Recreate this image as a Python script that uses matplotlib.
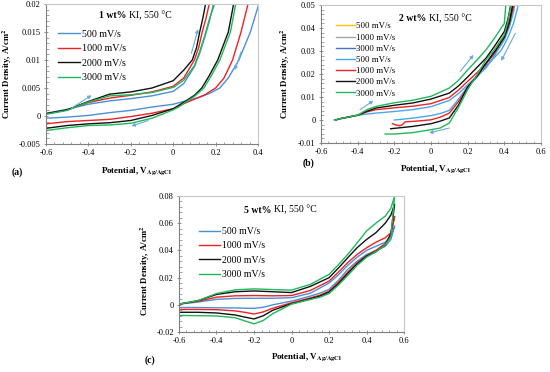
import matplotlib
matplotlib.use("Agg")
from matplotlib import pyplot as plt
from matplotlib.ticker import MultipleLocator, FuncFormatter

plt.rcParams['font.family'] = ['Liberation Serif', 'DejaVu Serif']
plt.rcParams['mathtext.fontset'] = 'stix'

BLUE = '#4a90d9'
LBLUE = '#45a8ee'
RED = '#ee2222'
BLACK = '#111111'
GREEN = '#1fb85a'
ARROW = '#6fa8dc'

rates = ['500 mV/s', '1000 mV/s', '2000 mV/s', '3000 mV/s']

# ---- panel (a): 1 wt% KI ----
a_x_fwd = {
    '500':  [-0.6, -0.5, -0.4, -0.3, -0.2, -0.1, 0.0, 0.05, 0.1, 0.125, 0.15, 0.17, 0.19, 0.2],
    '1000': [-0.6, -0.5, -0.4, -0.3, -0.2, -0.1, 0.0, 0.05, 0.1, 0.12, 0.137, 0.155, 0.17, 0.18],
    '2000': [-0.6, -0.5, -0.4, -0.3, -0.2, -0.1, 0.0, 0.05, 0.09, 0.11, 0.125, 0.14, 0.155, 0.165],
    '3000': [-0.6, -0.5, -0.4, -0.3, -0.2, -0.1, 0.0, 0.05, 0.1, 0.125, 0.15, 0.172, 0.2, 0.21],
}
a_y_fwd = {
    '500':  [0.0005, 0.0012, 0.0021, 0.0027, 0.0031, 0.0036, 0.0044, 0.0058, 0.0088, 0.0112, 0.0142, 0.0168, 0.0200, 0.023],
    '1000': [0.0004, 0.0011, 0.0024, 0.0032, 0.0037, 0.0043, 0.0053, 0.0068, 0.0100, 0.0122, 0.0150, 0.0175, 0.0200, 0.023],
    '2000': [0.0004, 0.0011, 0.0026, 0.0039, 0.0043, 0.0050, 0.0063, 0.0082, 0.0100, 0.0122, 0.0150, 0.0175, 0.0205, 0.023],
    '3000': [0.0003, 0.0010, 0.0025, 0.0036, 0.0038, 0.0042, 0.0051, 0.0064, 0.0090, 0.0115, 0.0145, 0.0175, 0.0205, 0.023],
}
a_x_rev = {
    '500':  [0.42, 0.4, 0.364, 0.31, 0.26, 0.22, 0.17, 0.12, 0.06, 0.0, -0.1, -0.2, -0.3, -0.4, -0.5, -0.6],
    '1000': [0.37, 0.353, 0.32, 0.28, 0.24, 0.2, 0.15, 0.1, 0.05, 0.0, -0.1, -0.2, -0.3, -0.4, -0.5, -0.6],
    '2000': [0.3, 0.285, 0.26, 0.21, 0.17, 0.135, 0.1, 0.06, 0.03, 0.0, -0.1, -0.2, -0.3, -0.4, -0.5, -0.6],
    '3000': [0.31, 0.295, 0.27, 0.22, 0.18, 0.145, 0.1, 0.06, 0.03, 0.0, -0.1, -0.2, -0.3, -0.4, -0.5, -0.6],
}
a_y_rev = {
    '500':  [0.022, 0.0195, 0.015, 0.010, 0.0068, 0.005, 0.0040, 0.0033, 0.0027, 0.0021, 0.0016, 0.0010, 0.0006, 0.0001, -0.0002, -0.0004],
    '1000': [0.022, 0.020, 0.015, 0.010, 0.0068, 0.005, 0.0038, 0.0030, 0.0022, 0.0013, 0.0005, -0.0001, -0.0006, -0.0008, -0.0010, -0.0014],
    '2000': [0.022, 0.020, 0.015, 0.010, 0.0072, 0.005, 0.0037, 0.0027, 0.0020, 0.0013, 0.0001, -0.0008, -0.0012, -0.0014, -0.0017, -0.0022],
    '3000': [0.022, 0.020, 0.015, 0.010, 0.0072, 0.005, 0.0035, 0.0025, 0.0017, 0.0011, -0.0004, -0.0013, -0.0016, -0.0017, -0.0021, -0.0026],
}

# ---- panel (b): 2 wt% KI ----
b_x_fwd = {
    '500':  [-0.53, -0.5, -0.45, -0.4, -0.35, -0.3, -0.2, -0.1, 0.0, 0.1, 0.15, 0.2, 0.25, 0.3, 0.35, 0.4, 0.43, 0.45, 0.46],
    '1000': [-0.52, -0.5, -0.45, -0.4, -0.35, -0.3, -0.2, -0.1, 0.0, 0.1, 0.15, 0.2, 0.25, 0.3, 0.35, 0.4, 0.43, 0.45],
    '2000': [-0.52, -0.5, -0.45, -0.4, -0.35, -0.3, -0.2, -0.1, 0.0, 0.1, 0.15, 0.2, 0.25, 0.3, 0.35, 0.4, 0.42, 0.44],
    '3000': [-0.52, -0.5, -0.45, -0.4, -0.35, -0.3, -0.2, -0.1, 0.0, 0.1, 0.15, 0.2, 0.25, 0.3, 0.35, 0.4, 0.41],
}
b_y_fwd = {
    '500':  [0.0, 0.0005, 0.0012, 0.0020, 0.0026, 0.0030, 0.0037, 0.0045, 0.0058, 0.0085, 0.0115, 0.0153, 0.0190, 0.0226, 0.0285, 0.0348, 0.041, 0.047, 0.052],
    '1000': [0.0, 0.0005, 0.0013, 0.0021, 0.0035, 0.0045, 0.0053, 0.0060, 0.0071, 0.0098, 0.0130, 0.0168, 0.0205, 0.0244, 0.0300, 0.0363, 0.044, 0.052],
    '2000': [0.0, 0.0005, 0.0013, 0.0021, 0.0038, 0.0052, 0.0064, 0.0074, 0.0091, 0.0117, 0.0148, 0.0187, 0.0228, 0.0269, 0.0325, 0.0385, 0.044, 0.052],
    '3000': [0.0, 0.0005, 0.0013, 0.0021, 0.0045, 0.0059, 0.0075, 0.0086, 0.0103, 0.0139, 0.0172, 0.0218, 0.0260, 0.0305, 0.0360, 0.0420, 0.052],
}
b_x_rev = {
    '500':  [0.48, 0.47, 0.45, 0.42, 0.4, 0.38, 0.35, 0.3, 0.25, 0.2, 0.15, 0.1, 0.05, 0.0, -0.1, -0.2],
    '1000': [0.46, 0.44, 0.42, 0.4, 0.35, 0.3, 0.25, 0.2, 0.15, 0.1, 0.05, 0.0, -0.05, -0.1, -0.14, -0.16, -0.17, -0.19, -0.21],
    '2000': [0.45, 0.43, 0.4, 0.35, 0.3, 0.25, 0.2, 0.15, 0.1, 0.05, 0.0, -0.1, -0.22],
    '3000': [0.44, 0.42, 0.4, 0.35, 0.3, 0.25, 0.2, 0.15, 0.1, 0.05, 0.0, -0.1, -0.2, -0.25],
}
b_y_rev = {
    '500':  [0.052, 0.048, 0.042, 0.036, 0.0327, 0.030, 0.0275, 0.0233, 0.0185, 0.0146, 0.0090, 0.0042, 0.0028, 0.0019, 0.0008, 0.0],
    '1000': [0.052, 0.046, 0.040, 0.036, 0.0295, 0.0243, 0.0190, 0.0143, 0.0080, 0.0030, 0.0012, 0.0001, -0.0003, -0.0006, -0.0008, -0.0022, -0.0025, -0.0022, -0.0016],
    '2000': [0.052, 0.043, 0.036, 0.030, 0.0247, 0.0190, 0.0143, 0.0065, 0.0009, -0.0005, -0.0016, -0.0028, -0.0038],
    '3000': [0.052, 0.043, 0.037, 0.031, 0.0262, 0.0195, 0.0132, 0.0055, -0.0013, -0.0035, -0.0042, -0.0055, -0.0061, -0.0061],
}
b_legend_only = [('500 mV/s', '#ffc000'), ('1000 mV/s', '#a5a5a5'), ('3000 mV/s', '#4472c4')]

# ---- panel (c): 5 wt% KI ----
c_x_fwd = [-0.6, -0.5, -0.4, -0.3, -0.2, -0.1, 0.0, 0.1, 0.2, 0.25, 0.3, 0.35, 0.4, 0.45, 0.5, 0.53, 0.55]
c_y_fwd = {
    '500':  [0.0005, 0.0020, 0.0040, 0.0047, 0.0048, 0.0048, 0.0052, 0.0085, 0.0160, 0.0220, 0.0290, 0.0350, 0.0400, 0.0430, 0.0460, 0.0500, 0.0580],
    '1000': [0.0005, 0.0025, 0.0056, 0.0066, 0.0068, 0.0066, 0.0068, 0.0105, 0.0174, 0.0240, 0.0310, 0.0370, 0.0419, 0.0460, 0.0493, 0.0530, 0.0650],
    '2000': [0.0005, 0.0030, 0.0076, 0.0096, 0.0102, 0.0096, 0.0090, 0.0135, 0.0199, 0.0270, 0.0346, 0.0420, 0.0480, 0.0530, 0.0600, 0.0660, 0.0740],
    '3000': [0.0005, 0.0030, 0.0083, 0.0110, 0.0117, 0.0112, 0.0108, 0.0150, 0.0223, 0.0295, 0.0370, 0.0455, 0.0542, 0.0600, 0.0652, 0.0710, 0.0800],
}
c_x_rev = [0.55, 0.53, 0.5, 0.45, 0.4, 0.35, 0.3, 0.25, 0.2, 0.15, 0.1, 0.05, 0.0, -0.1, -0.15, -0.2, -0.25, -0.3, -0.4, -0.5, -0.6]
c_y_rev = {
    '500':  [0.058, 0.048, 0.043, 0.040, 0.037, 0.032, 0.026, 0.018, 0.0113, 0.0085, 0.0064, 0.0045, 0.0027, 0.0000, -0.0018, -0.0026, -0.0025, -0.0023, -0.0022, -0.0020, -0.0020],
    '1000': [0.065, 0.052, 0.045, 0.040, 0.036, 0.031, 0.024, 0.0165, 0.0100, 0.0070, 0.0051, 0.0033, 0.0015, -0.0025, -0.0052, -0.0068, -0.0055, -0.0045, -0.0036, -0.0034, -0.0034],
    '2000': [0.074, 0.052, 0.044, 0.039, 0.0358, 0.030, 0.023, 0.0155, 0.0093, 0.0063, 0.0044, 0.0025, 0.0008, -0.0040, -0.0080, -0.0104, -0.0090, -0.0075, -0.0060, -0.0055, -0.0055],
    '3000': [0.080, 0.050, 0.044, 0.039, 0.035, 0.029, 0.0216, 0.0145, 0.0083, 0.0055, 0.0039, 0.0022, 0.0005, -0.0065, -0.0115, -0.0140, -0.0118, -0.0095, -0.0082, -0.0080, -0.0078],
}

# arrows (tail x, tail y, head x, head y)
a_arrows = [(-0.48, 0.0014, -0.385, 0.0037), (0.086, 0.0112, 0.117, 0.0155),
            (0.321, 0.0115, 0.29, 0.0082), (-0.118, -0.0008, -0.197, -0.0018)]
b_arrows = [(-0.387, 0.0045, -0.314, 0.0084), (0.159, 0.0211, 0.232, 0.0283),
            (0.46, 0.0377, 0.383, 0.0257), (0.1, -0.0035, -0.01, -0.0056)]

W, H = 550, 372
fig = plt.figure(figsize=(W / 100, H / 100), dpi=100)


def box(l, t, r, b):
    return fig.add_axes([l / W, 1 - b / H, (r - l) / W, (b - t) / H])


def style(ax, xlim, ylim, xmaj, ymaj):
    ax.set_xlim(xlim)
    ax.set_ylim(ylim)
    ax.xaxis.set_major_locator(MultipleLocator(xmaj))
    ax.xaxis.set_minor_locator(MultipleLocator(xmaj / 5))
    ax.yaxis.set_major_locator(MultipleLocator(ymaj))
    ax.yaxis.set_minor_locator(MultipleLocator(ymaj / 5))
    fmt = FuncFormatter(lambda v, p: '%g' % round(v, 4) if abs(v) > 1e-9 else '0')
    ax.xaxis.set_major_formatter(fmt)
    ax.yaxis.set_major_formatter(fmt)
    ax.tick_params(which='major', direction='inout', length=3.5, width=0.6,
                   color='#808080', labelsize=6, pad=2)
    ax.tick_params(which='minor', direction='in', length=1.8, width=0.5, color='#808080')
    for s in ['left', 'bottom']:
        ax.spines[s].set_color('#808080')
        ax.spines[s].set_linewidth(0.8)
    for s in ['top', 'right']:
        ax.spines[s].set_color('#c8c8c8')
        ax.spines[s].set_linewidth(0.8)
    ax.set_xlabel(r'Potential, V$_{\mathbf{Ag/AgCl}}$', fontsize=6.5, weight='bold')
    ax.set_ylabel(r'Current Density, A/cm$^{\mathbf{2}}$', fontsize=6.3, weight='bold')


def title(ax, x, y, bold, rest, fs=7):
    ax.text(x, y, bold, transform=ax.transAxes, ha='right', va='center',
            fontsize=fs, weight='bold')
    ax.text(x, y, rest, transform=ax.transAxes, ha='left', va='center', fontsize=fs)


def arrows(ax, lst):
    for x0, y0, x1, y1 in lst:
        ax.annotate('', xy=(x1, y1), xytext=(x0, y0),
                    arrowprops=dict(arrowstyle='-|>', color=ARROW, lw=0.8,
                                    mutation_scale=5, shrinkA=0, shrinkB=0))


keys = ['500', '1000', '2000', '3000']

# (a)
ax1 = box(46, 4, 258, 144)
for k, c, lab in zip(keys, [BLUE, RED, BLACK, GREEN], rates):
    ax1.plot(a_x_fwd[k] + a_x_rev[k], a_y_fwd[k] + a_y_rev[k], color=c, lw=1.0, label=lab)
style(ax1, (-0.6, 0.4), (-0.005, 0.02), 0.2, 0.005)
arrows(ax1, a_arrows)
title(ax1, 0.39, 0.92, '1 wt% ', 'KI, 550 °C')
ax1.legend(loc='upper left', bbox_to_anchor=(0.04, 0.845), frameon=False, fontsize=7.2,
           handlelength=2.2, handletextpad=0.2, labelspacing=0.55, borderaxespad=0)
ax1.xaxis.set_label_coords(0.425, -0.15)
ax1.yaxis.set_label_coords(-0.15, 0.5)

# (b)
ax2 = box(321, 5, 541, 143)
for lab, c in b_legend_only:
    ax2.plot([], [], color=c, lw=1.0, label=lab)
for k, c, lab in zip(keys, [LBLUE, RED, BLACK, GREEN], rates):
    ax2.plot(b_x_fwd[k] + b_x_rev[k], b_y_fwd[k] + b_y_rev[k], color=c, lw=1.0, label=lab)
style(ax2, (-0.6, 0.6), (-0.01, 0.05), 0.2, 0.01)
arrows(ax2, b_arrows)
title(ax2, 0.49, 0.9, '2 wt% ', 'KI, 550 °C')
ax2.legend(loc='upper left', bbox_to_anchor=(0.05, 0.9), frameon=False, fontsize=6.3,
           handlelength=2.2, handletextpad=0.2, labelspacing=0.35, borderaxespad=0)
ax2.xaxis.set_label_coords(0.52, -0.15)
ax2.yaxis.set_label_coords(-0.13, 0.5)

# (c)
ax3 = box(179, 196, 404, 332)
for k, c, lab in zip(keys, [BLUE, RED, BLACK, GREEN], rates):
    ax3.plot(c_x_fwd + c_x_rev, c_y_fwd[k] + c_y_rev[k], color=c, lw=1.0, label=lab)
style(ax3, (-0.6, 0.6), (-0.02, 0.08), 0.2, 0.02)
title(ax3, 0.422, 0.897, '5 wt% ', 'KI, 550 °C')
ax3.legend(loc='upper left', bbox_to_anchor=(0.07, 0.8), frameon=False, fontsize=7,
           handlelength=2.2, handletextpad=0.2, labelspacing=0.55, borderaxespad=0)
ax3.xaxis.set_label_coords(0.565, -0.14)
ax3.yaxis.set_label_coords(-0.12, 0.45)

fig.text(12 / W, 1 - 172 / H, '(a)', fontsize=7, weight='bold', va='center')
fig.text(303 / W, 1 - 163 / H, '(b)', fontsize=7, weight='bold', va='center')
fig.text(145 / W, 1 - 360 / H, '(c)', fontsize=7, weight='bold', va='center')

fig.savefig('out.png', dpi=100)
